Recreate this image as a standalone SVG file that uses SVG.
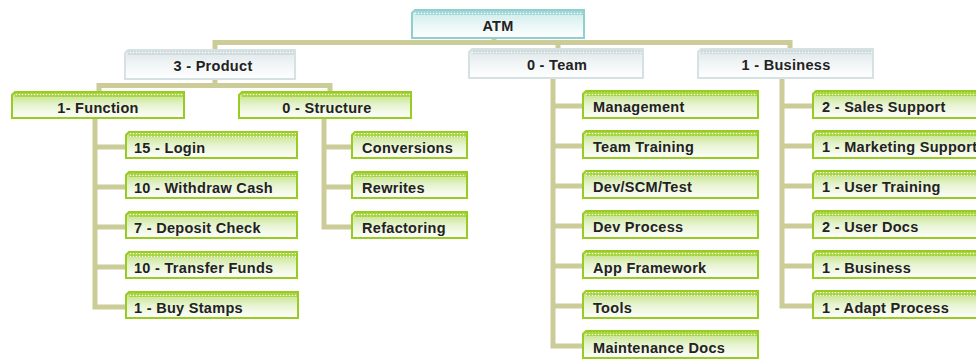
<svg xmlns="http://www.w3.org/2000/svg" width="976" height="360" viewBox="0 0 976 360">
<defs>
<linearGradient id="gG" x1="0" y1="0" x2="0" y2="1"><stop offset="0" stop-color="#bfe07a"/><stop offset="0.5" stop-color="#e6f3cf"/><stop offset="1" stop-color="#ffffff"/></linearGradient>
<linearGradient id="gY" x1="0" y1="0" x2="0" y2="1"><stop offset="0" stop-color="#dde6e8"/><stop offset="0.5" stop-color="#f1f5f6"/><stop offset="1" stop-color="#ffffff"/></linearGradient>
<linearGradient id="gT" x1="0" y1="0" x2="0" y2="1"><stop offset="0" stop-color="#c9ebe9"/><stop offset="0.5" stop-color="#e8f6f5"/><stop offset="1" stop-color="#ffffff"/></linearGradient>
<pattern id="dots" width="3" height="3" patternUnits="userSpaceOnUse"><circle cx="1.5" cy="1.5" r="0.8" fill="#ffffff"/></pattern>
</defs>
<style>
.c{stroke:#cccc99;stroke-width:5;fill:none;stroke-linecap:square}
.g{fill:url(#gG);stroke:#99cc22;stroke-width:2}
.y{fill:url(#gY);stroke:#d6e1e4;stroke-width:2}
.t{fill:url(#gT);stroke:#8fd0cf;stroke-width:2}
.gd{fill:#a6d43c}
.yd{fill:#cfdadd}
.td{fill:#9fd8d6}
.o{fill:url(#dots)}
text{font-family:"Liberation Sans",Arial,sans-serif;font-weight:bold;font-size:14.5px;letter-spacing:0.3px;fill:#222222}
.m{text-anchor:middle}
</style>
<g id="connectors">
<path class="c" d="M215,42.5 H790 M494,38 V42.5 M215,42.5 V50 M558,42.5 V49 M790,42.5 V49"/>
<path class="c" d="M215,79 V85.5 M99,85.5 H330 M99,85.5 V92 M330,85.5 V92"/>
<path class="c" d="M95,118 V307 M95,147 H126 M95,187 H126 M95,227 H126 M95,267 H126 M95,307 H126"/>
<path class="c" d="M324,118 V227 M324,147 H352 M324,187 H352 M324,227 H352"/>
<path class="c" d="M553,78 V346 M553,106 H583 M553,146 H583 M553,186 H583 M553,226 H583 M553,266 H583 M553,306 H583 M553,346 H583"/>
<path class="c" d="M782,78 V306 M782,106 H813 M782,146 H813 M782,186 H813 M782,226 H813 M782,266 H813 M782,306 H813"/>
</g>
<g id="atm"><path class="t" d="M415,10 H584 V38 H412 V13 Z"/><rect class="td" x="415" y="11" width="168" height="4"/><rect class="o" x="415" y="11" width="168" height="4"/><text class="m" x="498" y="31">ATM</text></g>
<g id="product"><path class="y" d="M128,50 H295 V79 H125 V53 Z"/><rect class="yd" x="128" y="51" width="166" height="4"/><rect class="o" x="128" y="51" width="166" height="4"/><text class="m" x="213" y="71">3 - Product</text></g>
<g id="team"><path class="y" d="M472,49 H643 V78 H469 V52 Z"/><rect class="yd" x="472" y="50" width="170" height="4"/><rect class="o" x="472" y="50" width="170" height="4"/><text class="m" x="557" y="70">0 - Team</text></g>
<g id="business"><path class="y" d="M701,49 H873 V78 H698 V52 Z"/><rect class="yd" x="701" y="50" width="171" height="4"/><rect class="o" x="701" y="50" width="171" height="4"/><text class="m" x="786" y="70">1 - Business</text></g>
<g id="function"><path class="g" d="M15,92 H184 V118 H12 V95 Z"/><rect class="gd" x="15" y="93" width="168" height="4"/><rect class="o" x="15" y="93" width="168" height="4"/><text class="m" x="98" y="113">1- Function</text></g>
<g id="structure"><path class="g" d="M242,92 H411 V118 H239 V95 Z"/><rect class="gd" x="242" y="93" width="168" height="4"/><rect class="o" x="242" y="93" width="168" height="4"/><text class="m" x="327" y="113">0 - Structure</text></g>
<g id="login"><path class="g" d="M129,132 H297 V158 H126 V135 Z"/><rect class="gd" x="129" y="133" width="167" height="4"/><rect class="o" x="129" y="133" width="167" height="4"/><text x="134" y="153">15 - Login</text></g>
<g id="withdraw"><path class="g" d="M129,172 H297 V198 H126 V175 Z"/><rect class="gd" x="129" y="173" width="167" height="4"/><rect class="o" x="129" y="173" width="167" height="4"/><text x="134" y="193">10 - Withdraw Cash</text></g>
<g id="deposit"><path class="g" d="M129,212 H297 V238 H126 V215 Z"/><rect class="gd" x="129" y="213" width="167" height="4"/><rect class="o" x="129" y="213" width="167" height="4"/><text x="134" y="233">7 - Deposit Check</text></g>
<g id="transfer"><path class="g" d="M129,252 H297 V278 H126 V255 Z"/><rect class="gd" x="129" y="253" width="167" height="4"/><rect class="o" x="129" y="253" width="167" height="4"/><text x="134" y="273">10 - Transfer Funds</text></g>
<g id="stamps"><path class="g" d="M129,292 H298 V318 H126 V295 Z"/><rect class="gd" x="129" y="293" width="168" height="4"/><rect class="o" x="129" y="293" width="168" height="4"/><text x="134" y="313">1 - Buy Stamps</text></g>
<g id="conversions"><path class="g" d="M355,132 H467 V158 H352 V135 Z"/><rect class="gd" x="355" y="133" width="111" height="4"/><rect class="o" x="355" y="133" width="111" height="4"/><text x="362" y="153">Conversions</text></g>
<g id="rewrites"><path class="g" d="M355,172 H467 V198 H352 V175 Z"/><rect class="gd" x="355" y="173" width="111" height="4"/><rect class="o" x="355" y="173" width="111" height="4"/><text x="362" y="193">Rewrites</text></g>
<g id="refactoring"><path class="g" d="M355,212 H467 V238 H352 V215 Z"/><rect class="gd" x="355" y="213" width="111" height="4"/><rect class="o" x="355" y="213" width="111" height="4"/><text x="362" y="233">Refactoring</text></g>
<g id="management"><path class="g" d="M586,91 H758 V118 H583 V94 Z"/><rect class="gd" x="586" y="92" width="171" height="4"/><rect class="o" x="586" y="92" width="171" height="4"/><text x="593" y="112">Management</text></g>
<g id="teamtraining"><path class="g" d="M586,131 H758 V158 H583 V134 Z"/><rect class="gd" x="586" y="132" width="171" height="4"/><rect class="o" x="586" y="132" width="171" height="4"/><text x="593" y="152">Team Training</text></g>
<g id="devscm"><path class="g" d="M586,171 H758 V198 H583 V174 Z"/><rect class="gd" x="586" y="172" width="171" height="4"/><rect class="o" x="586" y="172" width="171" height="4"/><text x="593" y="192">Dev/SCM/Test</text></g>
<g id="devprocess"><path class="g" d="M586,211 H758 V238 H583 V214 Z"/><rect class="gd" x="586" y="212" width="171" height="4"/><rect class="o" x="586" y="212" width="171" height="4"/><text x="593" y="232">Dev Process</text></g>
<g id="appframework"><path class="g" d="M586,251 H758 V278 H583 V254 Z"/><rect class="gd" x="586" y="252" width="171" height="4"/><rect class="o" x="586" y="252" width="171" height="4"/><text x="593" y="273">App Framework</text></g>
<g id="tools"><path class="g" d="M586,291 H758 V318 H583 V294 Z"/><rect class="gd" x="586" y="292" width="171" height="4"/><rect class="o" x="586" y="292" width="171" height="4"/><text x="593" y="313">Tools</text></g>
<g id="maintenance"><path class="g" d="M586,331 H758 V358 H583 V334 Z"/><rect class="gd" x="586" y="332" width="171" height="4"/><rect class="o" x="586" y="332" width="171" height="4"/><text x="593" y="353">Maintenance Docs</text></g>
<g id="sales"><path class="g" d="M816,91 H990 V118 H813 V94 Z"/><rect class="gd" x="816" y="92" width="173" height="4"/><rect class="o" x="816" y="92" width="173" height="4"/><text x="822" y="112">2 - Sales Support</text></g>
<g id="marketing"><path class="g" d="M816,131 H990 V158 H813 V134 Z"/><rect class="gd" x="816" y="132" width="173" height="4"/><rect class="o" x="816" y="132" width="173" height="4"/><text x="822" y="152">1 - Marketing Support</text></g>
<g id="usertraining"><path class="g" d="M816,171 H990 V198 H813 V174 Z"/><rect class="gd" x="816" y="172" width="173" height="4"/><rect class="o" x="816" y="172" width="173" height="4"/><text x="822" y="192">1 - User Training</text></g>
<g id="userdocs"><path class="g" d="M816,211 H990 V238 H813 V214 Z"/><rect class="gd" x="816" y="212" width="173" height="4"/><rect class="o" x="816" y="212" width="173" height="4"/><text x="822" y="232">2 - User Docs</text></g>
<g id="business2"><path class="g" d="M816,251 H990 V278 H813 V254 Z"/><rect class="gd" x="816" y="252" width="173" height="4"/><rect class="o" x="816" y="252" width="173" height="4"/><text x="822" y="273">1 - Business</text></g>
<g id="adapt"><path class="g" d="M816,291 H990 V318 H813 V294 Z"/><rect class="gd" x="816" y="292" width="173" height="4"/><rect class="o" x="816" y="292" width="173" height="4"/><text x="822" y="313">1 - Adapt Process</text></g>
</svg>
